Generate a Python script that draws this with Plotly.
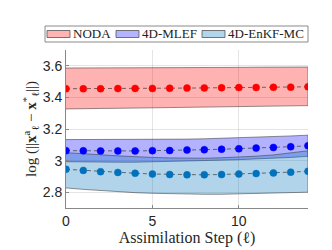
import plotly.graph_objects as go

steps = list(range(15))

noda_mean = [3.455, 3.455, 3.455, 3.456, 3.457, 3.457, 3.458, 3.459, 3.460, 3.461, 3.462, 3.463, 3.464, 3.465, 3.467]
noda_upper = [3.586, 3.586, 3.587, 3.587, 3.588, 3.588, 3.588, 3.589, 3.589, 3.590, 3.590, 3.591, 3.591, 3.592, 3.592]
noda_lower = [3.327, 3.328, 3.330, 3.331, 3.333, 3.334, 3.336, 3.337, 3.339, 3.340, 3.342, 3.343, 3.345, 3.346, 3.348]

mlef_mean = [3.063, 3.062, 3.061, 3.061, 3.061, 3.063, 3.064, 3.067, 3.069, 3.072, 3.075, 3.079, 3.083, 3.088, 3.094]
mlef_upper = [3.133, 3.133, 3.132, 3.132, 3.132, 3.133, 3.134, 3.136, 3.138, 3.141, 3.144, 3.148, 3.152, 3.156, 3.161]
mlef_lower = [2.993, 2.991, 2.990, 2.990, 2.990, 2.993, 2.994, 2.998, 3.000, 3.003, 3.006, 3.010, 3.014, 3.020, 3.027]

enkf_mean = [2.945, 2.938, 2.930, 2.925, 2.920, 2.915, 2.912, 2.910, 2.910, 2.912, 2.915, 2.918, 2.922, 2.927, 2.932]
enkf_upper = [3.050, 3.045, 3.037, 3.030, 3.024, 3.020, 3.017, 3.015, 3.015, 3.018, 3.022, 3.028, 3.036, 3.048, 3.062]
enkf_lower = [2.827, 2.818, 2.810, 2.803, 2.797, 2.793, 2.790, 2.788, 2.787, 2.787, 2.788, 2.790, 2.793, 2.797, 2.800]

legend_labels = ["NODA", "4D-MLEF", "4D-EnKF-MC"]

series = [
    (noda_mean, noda_upper, noda_lower, "rgba(255,0,0,0.3)", "#ffb3b3", "#ff0000"),
    (mlef_mean, mlef_upper, mlef_lower, "rgba(0,0,255,0.3)", "#b3b3ff", "#0000ff"),
    (enkf_mean, enkf_upper, enkf_lower, "rgba(0,114,189,0.3)", "#b3d5eb", "#0072bd"),
]

W, H = 332, 250
ML, MR, MT, MB = 58, 32, 42, 50
PW, PH = W - ML - MR, H - MT - MB


def px2x(px):
    return (px - ML) / PW


def py2y(py):
    return (H - MB - py) / PH


fig = go.Figure()
for mean, up, lo, fillc, solid, mc in series:
    fig.add_trace(go.Scatter(
        x=steps + steps[::-1], y=up + lo[::-1],
        fill="toself", fillcolor=fillc,
        line=dict(color="rgba(60,60,60,0.7)", width=0.8),
        mode="lines", showlegend=False, hoverinfo="skip"))
for mean, up, lo, fillc, solid, mc in series:
    fig.add_trace(go.Scatter(
        x=steps, y=mean, mode="lines+markers",
        line=dict(color="rgba(50,50,50,0.85)", width=0.8, dash="4px,3px"),
        marker=dict(color=mc, size=7, line=dict(color=mc, width=0.5)),
        showlegend=False))

# manual legend box (matching the MATLAB-style legend above the axes)
shapes = [dict(type="rect", xref="paper", yref="paper",
               x0=px2x(37), x1=px2x(300), y0=py2y(34), y1=py2y(18),
               fillcolor="white", line=dict(color="#8a8a8a", width=1), layer="above")]
annotations = []
patch_x = [39, 108, 194]
for (mean, up, lo, fillc, solid, mc), label, x0 in zip(series, legend_labels, patch_x):
    shapes.append(dict(type="rect", xref="paper", yref="paper",
                       x0=px2x(x0), x1=px2x(x0 + 23), y0=py2y(29.5), y1=py2y(22.5),
                       fillcolor=solid, line=dict(color="#555", width=0.8), layer="above"))
    annotations.append(dict(xref="paper", yref="paper", x=px2x(x0 + 23.5), y=py2y(26),
                            xanchor="left", yanchor="middle", showarrow=False, text=label,
                            font=dict(family="Liberation Serif, DejaVu Serif, serif", size=13, color="#222")))

axis_font = dict(family="Liberation Sans, Arial, sans-serif", size=14, color="#262626")
serif = "Liberation Serif, DejaVu Serif, serif"
fig.update_layout(
    width=W, height=H,
    margin=dict(l=ML, r=MR, t=MT, b=MB),
    paper_bgcolor="white", plot_bgcolor="white",
    showlegend=False,
    shapes=shapes, annotations=annotations,
    xaxis=dict(range=[0, 14], tickvals=[0, 5, 10], ticktext=["0", "5", "10"],
               showgrid=True, gridcolor="rgba(0,0,0,0.1)", gridwidth=1,
               showline=True, linecolor="#888", linewidth=1,
               ticks="inside", ticklen=3, tickcolor="#888",
               tickfont=axis_font, zeroline=False,
               title=dict(text="Assimilation Step (ℓ)", standoff=3,
                          font=dict(family=serif, size=16, color="#262626"))),
    yaxis=dict(range=[2.7, 3.7], tickvals=[2.8, 3.0, 3.2, 3.4, 3.6], ticktext=["2.8", "3", "3.2", "3.4", "3.6"],
               showgrid=True, gridcolor="rgba(0,0,0,0.1)", gridwidth=1,
               showline=True, linecolor="#888", linewidth=1,
               ticks="inside", ticklen=3, tickcolor="#888",
               tickfont=axis_font, zeroline=False,
               title=dict(text="log (||<b>x</b><sup>a</sup><sub>ℓ</sub> − <b>x</b><sup>*</sup><sub>ℓ</sub>||)", standoff=2,
                          font=dict(family=serif, size=15, color="#262626"))),
)
fig.write_html("out.html")
